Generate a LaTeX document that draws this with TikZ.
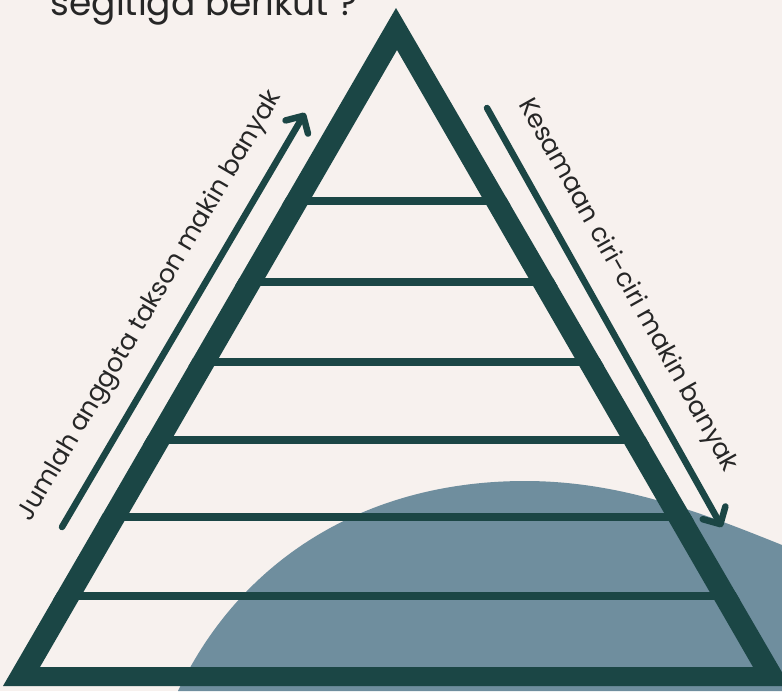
\documentclass[tikz,border=0pt]{standalone}
\usepackage{fontspec}
\setmainfont{Poppins}
\usetikzlibrary{arrows.meta,calc}
\definecolor{bg}{HTML}{F7F1EE}
\definecolor{tealdk}{HTML}{1B4645}
\definecolor{blobc}{HTML}{6F8E9E}
\definecolor{txt}{HTML}{262626}
\begin{document}
\begin{tikzpicture}[x=1pt,y=-1pt,
  arr/.style={draw=tealdk, line width=6.5pt, line cap=round,
    -{Straight Barb[length=13pt,width=26pt,line cap=round,line join=round]}},
  lbl/.style={font=\fontsize{25.5}{30}\selectfont, text=txt, inner sep=0pt, anchor=base},
  rung/.style={draw=tealdk, line width=8.5pt}]
\useasboundingbox (0,0) rectangle (782,691);
\fill[bg] (0,0) rectangle (782,691);
% blob
\fill[blobc] (178,691) .. controls (240,560) and (365,481) .. (525,481)
  .. controls (620,481) and (700,512) .. (782,545) -- (782,691) -- cycle;
% triangle
\coordinate (oA) at (396,8);
\coordinate (oL) at (3,686);
\coordinate (oR) at (790,686);
\coordinate (iA) at (397,50);
\coordinate (iL) at (40,667);
\coordinate (iR) at (753,667);
\fill[tealdk, even odd rule] (oA) -- (oL) -- (oR) -- cycle (iA) -- (iL) -- (iR) -- cycle;
\begin{scope}
  \clip (oA) -- (oL) -- (oR) -- cycle;
  \foreach \y in {201,282,362,440,517,596} \draw[rung] (0,\y) -- (782,\y);
\end{scope}
% arrows
\coordinate (la1) at (62,527);
\coordinate (la2) at (305,113);
\coordinate (ra1) at (487,108);
\coordinate (ra2) at (722,527);
\draw[arr] (la1) -- (la2);
\draw[arr] (ra1) -- (ra2);
% labels
\node[lbl, rotate=59.5] (ltxt) at ($(la1)!0.49!(la2)+(-25,-14.7)$) {Jumlah anggota takson makin banyak};
\node[lbl, rotate=-60.7] (rtxt) at ($(ra1)!0.465!(ra2)+(25.3,-14.2)$) {Kesamaan ciri-ciri makin banyak};
\node[font=\fontsize{36}{40}\selectfont, text=txt, inner sep=0pt, anchor=base] (title) at (204,15) {segitiga berikut ?};
\end{tikzpicture}
\end{document}
